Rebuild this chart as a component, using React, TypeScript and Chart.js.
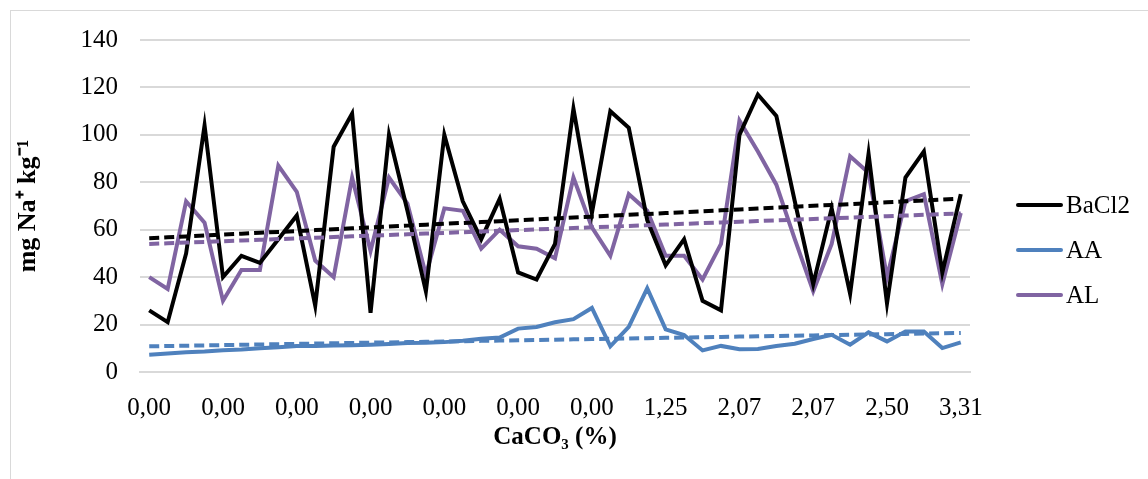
import React, { useEffect, useRef } from "react";
import { Chart, registerables } from "chart.js";
Chart.register(...registerables);

// Tick labels shown on the category axis (every 4th sample)
const tickLabels = ["0,00", "0,00", "0,00", "0,00", "0,00", "0,00", "0,00", "1,25", "2,07", "2,07", "2,50", "3,31"];
const tickEvery = 4;

const seriesNames = ["BaCl2", "AA", "AL"];

const bacl2 = [26, 21, 50, 104, 40, 49, 46, 56, 66, 28, 95, 109, 25, 100, 68, 34, 100, 72, 56, 73, 42, 39, 54, 111, 67, 110, 103, 64, 45, 56, 30, 26, 100, 117, 108, 72, 37, 69, 33, 92, 29, 82, 93, 42, 75];
const aa = [7.3, 7.8, 8.3, 8.6, 9.2, 9.5, 10, 10.4, 11, 11, 11.2, 11.3, 11.5, 11.8, 12.2, 12.3, 12.6, 13.2, 14, 14.5, 18.3, 19, 21, 22.3, 27, 10.8, 19, 35.3, 18, 15.6, 9.1, 11, 9.6, 9.7, 11, 11.9, 13.9, 15.7, 11.5, 16.7, 12.9, 17.1, 17.1, 10.1, 12.5];
const al = [40, 35, 72, 63, 30, 43, 43, 87, 76, 47, 40, 82, 51, 82, 71, 41, 69, 68, 52, 60, 53, 52, 48, 82, 61, 49, 75, 68, 49, 49, 39, 54, 106, 93, 79, 56, 34, 54, 91, 84, 40, 72, 75, 37, 67];

const yMin = 0;
const yMax = 140;
const yStep = 20;

const colors = ["#000000", "#4f81bd", "#8064a2"];
const FONT = "'Liberation Serif', 'Times New Roman', serif";

function trend(values: number[]): number[] {
  const n = values.length;
  let sx = 0, sy = 0, sxy = 0, sxx = 0;
  values.forEach((v, i) => {
    const x = i + 1;
    sx += x; sy += v; sxy += x * v; sxx += x * x;
  });
  const b = (n * sxy - sx * sy) / (n * sxx - sx * sx);
  const a = (sy - b * sx) / n;
  return values.map((_, i) => a + b * (i + 1));
}

export default function App() {
  const ref = useRef<HTMLCanvasElement>(null);

  useEffect(() => {
    document.body.style.margin = "0";
    const canvas = ref.current!;
    const categories = bacl2.map((_, i) => String(i + 1));
    const series = [bacl2, aa, al];

    const datasets: any[] = [];
    series.forEach((vals, k) => {
      datasets.push({
        label: seriesNames[k],
        data: vals,
        borderColor: colors[k],
        backgroundColor: colors[k],
        borderWidth: 4,
        pointRadius: 0,
        tension: 0,
        fill: false,
        order: 2,
      });
    });
    series.forEach((vals, k) => {
      datasets.push({
        label: seriesNames[k] + " trend",
        data: trend(vals),
        borderColor: colors[k],
        borderWidth: 4,
        borderDash: [10, 5],
        pointRadius: 0,
        tension: 0,
        fill: false,
        order: 1,
      });
    });

    const legendPlugin = {
      id: "customLegend",
      afterDraw(chart: any) {
        const ctx = chart.ctx;
        ctx.save();
        seriesNames.forEach((name, k) => {
          const y = 205 + k * 45;
          ctx.beginPath();
          ctx.strokeStyle = colors[k];
          ctx.lineWidth = 4;
          ctx.lineCap = "round";
          ctx.moveTo(1018, y);
          ctx.lineTo(1061, y);
          ctx.stroke();
          ctx.fillStyle = "#000";
          ctx.font = `25px ${FONT}`;
          ctx.textBaseline = "middle";
          ctx.textAlign = "left";
          ctx.fillText(name, 1066, y + 1);
        });
        ctx.restore();
      },
    };

    const chart = new Chart(canvas, {
      type: "line",
      data: { labels: categories, datasets },
      options: {
        responsive: false,
        animation: false,
        events: [],
        layout: { padding: { left: 0, right: 178, top: 40, bottom: 0 } },
        plugins: { legend: { display: false }, tooltip: { enabled: false } },
        scales: {
          x: {
            type: "category",
            offset: true,
            grid: { display: false, drawTicks: false },
            border: { display: true, color: "#d9d9d9", width: 2 },
            ticks: {
              autoSkip: false,
              maxRotation: 0,
              padding: 21,
              color: "#000",
              font: { family: FONT, size: 25 },
              callback: (_v: any, i: number) => (i % tickEvery === 0 ? tickLabels[i / tickEvery] : ""),
            },
            title: {
              display: true,
              text: "CaCO₃ (%)",
              color: "#000",
              font: { family: FONT, size: 25, weight: "bold" },
              padding: { top: 0, bottom: 26 },
            },
            afterFit: (s: any) => { s.height = 107; },
          },
          y: {
            min: yMin,
            max: yMax,
            grid: { color: "#d9d9d9", lineWidth: 2, drawTicks: false },
            border: { display: false },
            ticks: {
              stepSize: yStep,
              padding: 22,
              color: "#000",
              font: { family: FONT, size: 25 },
            },
            title: {
              display: true,
              text: "mg Na⁺ kg⁻¹",
              color: "#000",
              font: { family: FONT, size: 26, weight: "bold" },
              padding: { top: 13, bottom: 0 },
            },
            afterFit: (s: any) => { s.width = 140; },
          },
        },
      },
      plugins: [legendPlugin],
    });
    return () => chart.destroy();
  }, []);

  return (
    <div style={{ position: "fixed", left: 0, top: 0, width: 1148, height: 479, overflow: "hidden", background: "#fff" }}>
      <div style={{ position: "absolute", left: 10, top: 10, width: 1300, height: 700, border: "1px solid #d9d9d9", boxSizing: "border-box" }} />
      <canvas ref={ref} width={1148} height={479} style={{ position: "absolute", left: 0, top: 0 }} />
    </div>
  );
}
